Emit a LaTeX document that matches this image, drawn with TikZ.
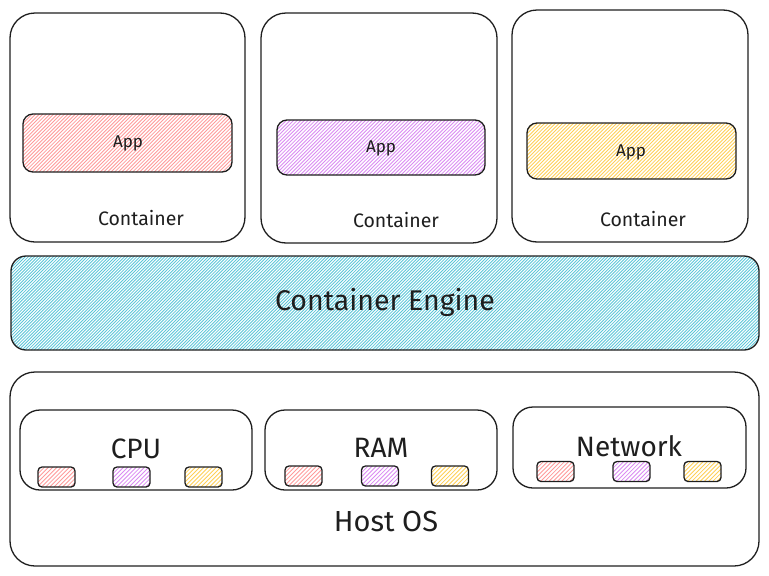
\documentclass[tikz,border=0pt]{standalone}
\usepackage{fontspec}
\setmainfont{Fira Sans}
\definecolor{ink}{HTML}{1E1E1E}
\definecolor{hred}{HTML}{FF9A9A}
\definecolor{hpurple}{HTML}{DA8BF2}
\definecolor{hyellow}{HTML}{FFCF55}
\definecolor{hcyan}{HTML}{5CC6D8}
\tikzset{
  box/.style={draw=ink, line width=1.3pt, rounded corners=#1, inner sep=0pt},
  box/.default=20pt,
  hatch/.style 2 args={path picture={
    \foreach \i in {0,...,300}{
      \draw[#1, line width=0.85pt] ([xshift={\i*#2-110}]path picture bounding box.south west) -- ++(110,-110);
    }}},
  lbl/.style={text=ink, inner sep=0pt, font=\fontsize{#1}{#1}\selectfont},
  chip/.style={box=4pt, minimum width=37pt, minimum height=20pt, hatch={#1}{4.2}},
}
\begin{document}
\begin{tikzpicture}[x=1pt,y=-1pt]
\useasboundingbox (0,0) rectangle (769,576);
% containers
\node[box=25pt, minimum width=235pt, minimum height=229pt] (c1) at (127.5,127.5) {};
\node[box=25pt, minimum width=236pt, minimum height=230pt] (c2) at (379,128) {};
\node[box=25pt, minimum width=236pt, minimum height=232pt] (c3) at (630,126) {};
\node[box=10pt, minimum width=209pt, minimum height=58pt, hatch={hred}{3.6}] (a1) at (127.5,143) {};
\node[box=10pt, minimum width=208pt, minimum height=55pt, hatch={hpurple}{3.6}] (a2) at (381,147.5) {};
\node[box=10pt, minimum width=209pt, minimum height=56pt, hatch={hyellow}{3.6}] (a3) at (631.5,151) {};
\node[lbl=17] (ta1) at (128,143) {App};
\node[lbl=17] (ta2) at (381,148) {App};
\node[lbl=17] (ta3) at (631,152) {App};
\node[lbl=19.5] (tc1) at (141,218) {Container};
\node[lbl=19.5] (tc2) at (396,220) {Container};
\node[lbl=19.5] (tc3) at (643,219) {Container};
% engine
\node[box=15pt, minimum width=748pt, minimum height=94pt, hatch={hcyan}{3.1}] (eng) at (385,303) {};
\node[lbl=28.5] (teng) at (385,302) {Container Engine};
% host
\node[box=25pt, minimum width=749pt, minimum height=194pt] (host) at (384.5,469) {};
\node[lbl=29] (thost) at (386,522) {Host OS};
\node[box=20pt, minimum width=232pt, minimum height=80pt] (cpu) at (136,450) {};
\node[box=20pt, minimum width=232pt, minimum height=80pt] (ram) at (381,450) {};
\node[box=20pt, minimum width=233pt, minimum height=81pt] (net) at (629.5,447.5) {};
\node[lbl=28] (tcpu) at (136,449) {CPU};
\node[lbl=28] (tram) at (381,448) {RAM};
\node[lbl=28] (tnet) at (629,446) {Network};
\node[chip=hred] (cpu1) at (56.5,477) {};
\node[chip=hpurple] (cpu2) at (131.5,477) {};
\node[chip=hyellow] (cpu3) at (203.5,477) {};
\node[chip=hred] (ram1) at (303.5,476) {};
\node[chip=hpurple] (ram2) at (380,476) {};
\node[chip=hyellow] (ram3) at (450,476) {};
\node[chip=hred] (net1) at (555.5,471.5) {};
\node[chip=hpurple] (net2) at (631.5,471.5) {};
\node[chip=hyellow] (net3) at (702.5,471.5) {};
\end{tikzpicture}
\end{document}
